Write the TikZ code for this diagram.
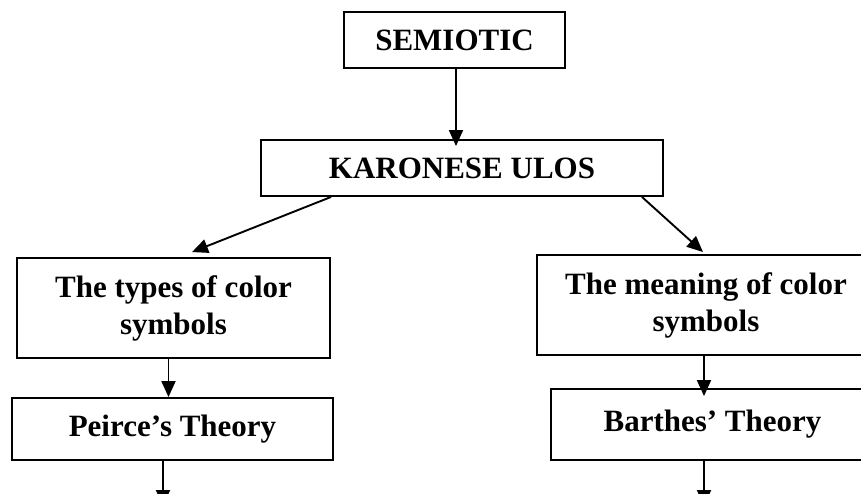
\documentclass[tikz,border=0pt]{standalone}
\usepackage{fontspec}
\setmainfont{Liberation Serif}
\usetikzlibrary{arrows.meta}
\begin{document}
\begin{tikzpicture}[x=1pt,y=-1pt,
  box/.style={draw=black, line width=1.9pt, inner sep=0pt, align=center,
    font=\fontsize{31}{37}\selectfont\bfseries},
  arr/.style={line width=1.9pt, -{Triangle[length=16pt,width=14pt]}}]
\useasboundingbox (0,0) rectangle (861,494);
\fill[white] (0,0) rectangle (861,494);
\node[box, minimum width=221pt, minimum height=56pt] (sem) at (454.5,40) {SEMIOTIC};
\node[box, minimum width=402pt, minimum height=56pt] (kar) at (462,168) {KARONESE ULOS};
\node[box, minimum width=313pt, minimum height=100pt] (types) at (173.5,308) {The types of color\\symbols};
\node[box, minimum width=333pt, minimum height=100pt] (mean) at (703.5,305) {\hspace*{5pt}The meaning of color\\\hspace*{5pt}symbols};
\node[box, minimum width=321pt, minimum height=62pt] (peirce) at (172.5,429) {Peirce’s Theory};
\node[box, minimum width=319pt, minimum height=71pt] (barthes) at (710.5,424.5) {\hspace*{4pt}Barthes’ Theory};
\coordinate (pend) at (163,506);
\coordinate (bend) at (704,506);
\draw[arr] ([xshift=1.5pt]sem.south) -- ([xshift=1.5pt,yshift=-7pt]sem.south |- kar.north);
\draw[arr] ([xshift=71pt]kar.south west) -- ([xshift=18.5pt,yshift=5pt]types.north);
\draw[arr] ([xshift=-22pt]kar.south east) -- ([xshift=-0.5pt,yshift=2pt]mean.north);
\draw[arr] ([xshift=-5pt]types.south) -- ([xshift=-5pt]types.south |- peirce.north);
\draw[arr] ([xshift=0.5pt]mean.south) -- ([xshift=0.5pt,yshift=-8pt]mean.south |- barthes.north);
\draw[arr] (peirce.south -| pend) -- (pend);
\draw[arr] (barthes.south -| bend) -- (bend);
\end{tikzpicture}
\end{document}
